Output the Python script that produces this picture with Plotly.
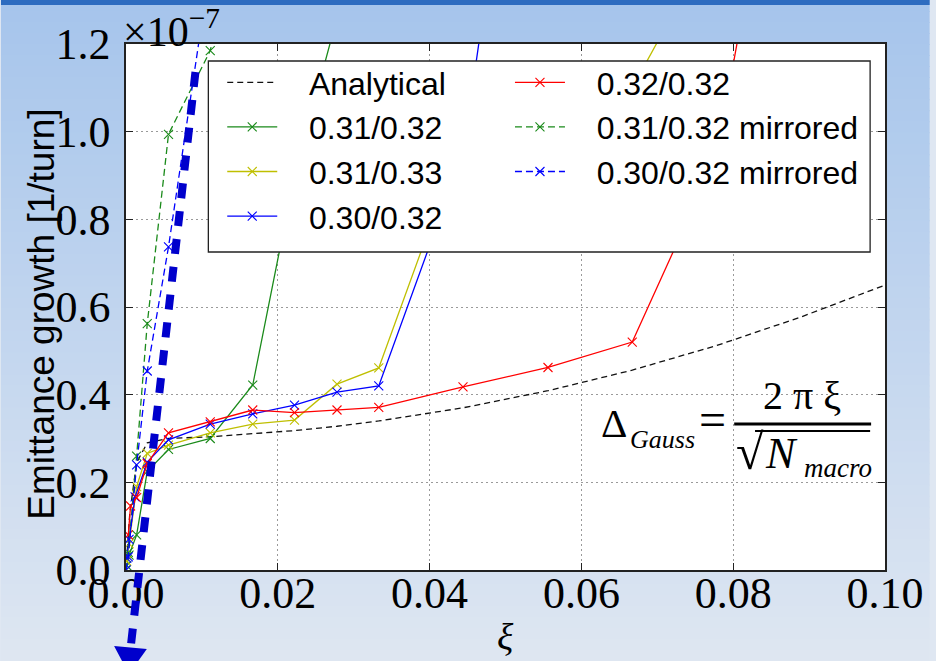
import numpy as np
import plotly.graph_objects as go

# ---------------- data (emittance growth in units of 1e-7 per turn) ----------------
xi_analytical = [0.0, 0.0005, 0.0014, 0.0028, 0.0056, 0.0111, 0.0167, 0.0222, 0.0278,
                 0.0333, 0.0444, 0.0556, 0.0667, 0.0778, 0.0889, 0.1]
g_analytical = [0.0, 0.13, 0.245, 0.29, 0.30, 0.304, 0.311, 0.318, 0.328,
                0.34, 0.37, 0.409, 0.456, 0.512, 0.577, 0.65]

xi_3132 = [0.0001, 0.0004, 0.0014, 0.0028, 0.0056, 0.0111, 0.0167, 0.0222, 0.0278]
g_3132 = [0.01, 0.034, 0.08, 0.225, 0.275, 0.300, 0.422, 0.90, 1.26]

xi_3133 = [0.0001, 0.0004, 0.0014, 0.0028, 0.0056, 0.0111, 0.0167, 0.0222, 0.0278,
           0.0333, 0.0444, 0.0556, 0.0667, 0.0778]
g_3133 = [0.02, 0.06, 0.19, 0.266, 0.285, 0.313, 0.333, 0.342, 0.424,
          0.461, 0.99, 1.05, 1.10, 1.45]

xi_3032 = [0.0001, 0.0004, 0.0012, 0.0028, 0.0056, 0.0111, 0.0167, 0.0222, 0.0278,
           0.0333, 0.0444, 0.0556]
g_3032 = [0.027, 0.07, 0.167, 0.246, 0.297, 0.333, 0.356, 0.376, 0.406,
          0.420, 0.95, 2.3]

xi_3232 = [0.0003, 0.0006, 0.0014, 0.0028, 0.0056, 0.0111, 0.0167, 0.0222, 0.0278,
           0.0333, 0.0444, 0.0556, 0.0667, 0.0778, 0.0889]
g_3232 = [0.08, 0.146, 0.165, 0.243, 0.313, 0.338, 0.365, 0.359, 0.365,
          0.371, 0.418, 0.462, 0.520, 0.944, 2.0]

xi_3132m = [0.0, 0.0003, 0.0014, 0.0028, 0.0056, 0.0111, 0.0167]
g_3132m = [0.0, 0.04, 0.26, 0.562, 0.994, 1.185, 1.6]

xi_3032m = [0.0, 0.0003, 0.0014, 0.0028, 0.0056, 0.0111]
g_3032m = [0.0, 0.03, 0.24, 0.454, 0.737, 1.38]

x_ticks = [0.0, 0.02, 0.04, 0.06, 0.08, 0.10]
x_tick_labels = ["0.00", "0.02", "0.04", "0.06", "0.08", "0.10"]
y_ticks = [0.0, 0.2, 0.4, 0.6, 0.8, 1.0, 1.2]
y_tick_labels = ["0.0", "0.2", "0.4", "0.6", "0.8", "1.0", "1.2"]
SCALE = 1e-7

# ---------------- layout geometry ----------------
W, H = 936, 661
L, R, T, B = 126, 891, 44, 570


def pxx(xp):
    return (xp - L) / (R - L)


def pxy(yp):
    return (B - yp) / (B - T)


SERIF = "Liberation Serif"
SANS = "Liberation Sans"
NB = "\u00a0\u00a0\u00a0"

fig = go.Figure()


def add_series(x, y, name, color, dash, legend, markers=True):
    fig.add_trace(go.Scatter(
        x=x, y=np.array(y) * SCALE, name=NB + name,
        mode="lines+markers" if markers else "lines",
        line=dict(color=color, width=1.3, dash=dash),
        marker=dict(symbol="x-thin", size=9, color=color,
                    line=dict(color=color, width=1.1)),
        legend=legend, hoverinfo="skip"))


add_series(xi_analytical, g_analytical, "Analytical", "#111111", "6px,4px", "legend", markers=False)
add_series(xi_3132, g_3132, "0.31/0.32", "#1a8a1a", "solid", "legend")
add_series(xi_3133, g_3133, "0.31/0.33", "#bfbf00", "solid", "legend")
add_series(xi_3032, g_3032, "0.30/0.32", "#0000ff", "solid", "legend")
add_series(xi_3232, g_3232, "0.32/0.32", "#ff0000", "solid", "legend2")
add_series(xi_3132m, g_3132m, "0.31/0.32 mirrored", "#1a8a1a", "7px,4px", "legend2")
add_series(xi_3032m, g_3032m, "0.30/0.32 mirrored", "#0000ff", "7px,4px", "legend2")

shapes = []
# slide-like gradient background
top_c = np.array([166, 197, 236])
bot_c = np.array([223, 231, 242])
n_bands = 60
for i in range(n_bands):
    y0p = i * H / n_bands
    y1p = (i + 1) * H / n_bands + 1
    t = (i + 0.5) / n_bands
    c = (top_c * (1 - t) + bot_c * t).astype(int)
    shapes.append(dict(type="rect", xref="paper", yref="paper",
                       x0=pxx(0), x1=pxx(W), y0=pxy(y1p), y1=pxy(y0p),
                       fillcolor="rgb(%d,%d,%d)" % tuple(c), line=dict(width=0), layer="below"))
shapes.append(dict(type="rect", xref="paper", yref="paper",
                   x0=pxx(0), x1=pxx(W), y0=pxy(5), y1=pxy(0),
                   fillcolor="#2d6cc0", line=dict(width=0), layer="below"))
shapes.append(dict(type="rect", xref="paper", yref="paper", x0=0, x1=1, y0=0, y1=1,
                   fillcolor="white", line=dict(width=0), layer="below"))

# legend frame
shapes.append(dict(type="rect", xref="paper", yref="paper",
                   x0=pxx(209), x1=pxx(876), y0=pxy(252), y1=pxy(61),
                   fillcolor="white", line=dict(color="#222222", width=1.3), layer="above"))

# formula fraction bar and root bar
shapes.append(dict(type="line", xref="paper", yref="paper",
                   x0=pxx(739), x1=pxx(877), y0=pxy(424), y1=pxy(424),
                   line=dict(color="black", width=3), layer="above"))
shapes.append(dict(type="line", xref="paper", yref="paper",
                   x0=pxx(760), x1=pxx(876), y0=pxy(431), y1=pxy(431),
                   line=dict(color="black", width=2), layer="above"))

# thick blue dashed arrow
shapes.append(dict(type="line", xref="paper", yref="paper",
                   x0=pxx(196), y0=pxy(72), x1=pxx(131), y1=pxy(645),
                   line=dict(color="#0000cc", width=8, dash="15px,13px"), layer="above"))
shapes.append(dict(type="path", xref="paper", yref="paper",
                   path="M %f %f L %f %f L %f %f Z" % (pxx(114), pxy(646), pxx(147), pxy(649),
                                                    pxx(129), pxy(674)),
                   fillcolor="#0000cc", line=dict(width=0), layer="above"))

annotations = []


def ann(text, xp, yp, size, family=SERIF, xanchor="center", yanchor="middle", angle=0):
    annotations.append(dict(text=text, xref="paper", yref="paper", x=pxx(xp), y=pxy(yp),
                            xanchor=xanchor, yanchor=yanchor, showarrow=False, textangle=angle,
                            font=dict(family=family, size=size, color="black")))


ann("×10<sup>−7</sup>", 121, 57, 42, xanchor="left", yanchor="bottom")
ann("Emittance growth [1/turn]", 40, 314, 37, family=SANS, angle=-90)
ann("<i>ξ</i>", 508, 637, 38)
# formula
ann("Δ", 618, 423, 41)
ann("<i>Gauss</i>", 632, 439, 26, xanchor="left")
ann("=", 717, 419, 48)
ann("2 π ξ", 807, 395, 40)
ann("√", 755, 452, 50)
ann("<i>N</i>", 787, 453, 44)
ann("<i>macro</i>", 807, 468, 27, xanchor="left")

axis_common = dict(showline=True, linecolor="#222222", linewidth=1.5, mirror="ticks",
                   ticks="inside", ticklen=7, tickwidth=1, tickcolor="#222222",
                   showgrid=True, gridcolor="#9a9a9a", gridwidth=1, griddash="2px,3px",
                   zeroline=False, tickfont=dict(family=SERIF, size=44, color="black"))

fig.update_layout(
    width=W, height=H,
    margin=dict(l=L, r=W - R, t=T, b=H - B, pad=0),
    paper_bgcolor="rgb(223,231,242)", plot_bgcolor="white",
    xaxis=dict(range=[0, 0.1], tickvals=x_ticks, ticktext=x_tick_labels,
               ticklabelstandoff=-17, **axis_common),
    yaxis=dict(range=[0, 1.2 * SCALE], tickvals=[v * SCALE for v in y_ticks],
               ticktext=y_tick_labels, ticklabelstandoff=5, **axis_common),
    legend=dict(x=pxx(223), y=pxy(55), xanchor="left", yanchor="top",
                bgcolor="rgba(0,0,0,0)", borderwidth=0, itemwidth=50,
                font=dict(family=SANS, size=32, color="black")),
    legend2=dict(x=pxx(513), y=pxy(55), xanchor="left", yanchor="top",
                 bgcolor="rgba(0,0,0,0)", borderwidth=0, itemwidth=50,
                 font=dict(family=SANS, size=32, color="black")),
    shapes=shapes, annotations=annotations, hovermode=False, showlegend=True,
)

fig.write_html("out.html", config={"displayModeBar": False},
               post_script="document.body.style.margin='0';document.body.style.overflow='hidden';")
